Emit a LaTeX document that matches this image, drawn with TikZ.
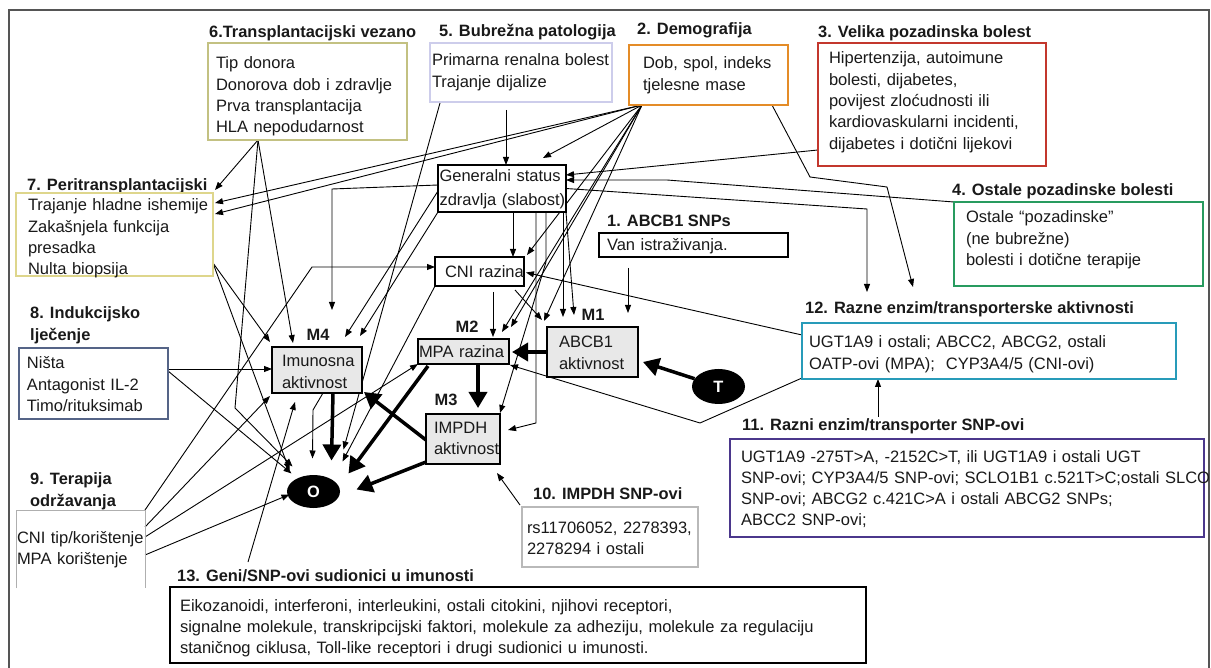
\documentclass[tikz,border=0pt]{standalone}
\usepackage{fontspec}
\setmainfont{Liberation Sans}
\usetikzlibrary{arrows.meta,shapes.geometric,calc}
\definecolor{cSix}{RGB}{195,193,130}
\definecolor{cSeven}{RGB}{222,214,140}
\definecolor{cFive}{RGB}{205,205,235}
\definecolor{cTwo}{RGB}{228,140,40}
\definecolor{cThree}{RGB}{195,55,45}
\definecolor{cFour}{RGB}{40,155,95}
\definecolor{cTwelve}{RGB}{40,155,185}
\definecolor{cEleven}{RGB}{75,55,140}
\definecolor{cEight}{RGB}{85,100,135}
\definecolor{cNine}{RGB}{175,175,175}
\definecolor{cTen}{RGB}{185,185,185}
\definecolor{cFrame}{RGB}{85,85,85}
\definecolor{mfill}{RGB}{232,232,232}
\definecolor{txt}{RGB}{25,25,25}
\newcommand{\lne}[1]{\mbox{#1}}
\newcommand{\fsz}{\fontsize{16.5}{21.3}\selectfont}
\newcommand{\tsz}{\fontsize{16.4}{19}\selectfont\bfseries}
\pgfdeclarelayer{back}
\pgfdeclarelayer{bg}
\pgfsetlayers{back,bg,main}
\begin{document}
\begin{tikzpicture}[x=1pt,y=-1pt,
 box/.style={draw, fill=white, anchor=north west, align=left, inner ysep=0pt, outer sep=0pt, font=\fsz, text=txt, line width=2.5pt},
 mb/.style={box, line width=1.5pt, draw=black, fill=mfill},
 wb/.style={box, line width=1.5pt, draw=black},
 ttl/.style={anchor=base west, inner sep=0pt, font=\tsz, text=txt},
 ml/.style={anchor=base, inner sep=0pt, font=\tsz, text=txt},
 arr/.style={-{Triangle[length=8pt,width=6pt]}, line width=0.9pt},
 thk/.style={-{Triangle[length=16pt,width=18pt]}, line width=3.5pt},
 blob/.style={ellipse, fill=black, inner sep=0pt, text=white, font=\tsz},
]
\useasboundingbox (0,0) rectangle (1211,668);
\begin{pgfonlayer}{back}
\fill[white] (0,0) rectangle (1211,668);
\draw[cFrame, line width=2pt] (9,10) rectangle (1209,690);
\end{pgfonlayer}

% ---------- titles ----------
\node[ttl] (t6) at (209,38) {6.Transplantacijski vezano};
\node[ttl] (t5) at (439,37) {5. Bubrežna patologija};
\node[ttl] (t2) at (637,35) {2. Demografija};
\node[ttl] (t3) at (818,38) {3. Velika pozadinska bolest};
\node[ttl] (t4) at (952,196) {4. Ostale pozadinske bolesti};
\node[ttl] (t7) at (27,191) {7. Peritransplantacijski};
\node[ttl] (t1) at (607,227) {1. ABCB1 SNPs};
\node[ttl] (t12) at (805,314) {12. Razne enzim/transporterske aktivnosti};
\node[ttl] (t8a) at (30,319) {8. Indukcijsko};
\node[ttl] (t8b) at (30,341) {lječenje};
\node[ttl] (t9a) at (30,484) {9. Terapija};
\node[ttl] (t9b) at (30,506) {održavanja};
\node[ttl] (t11) at (742,431) {11. Razni enzim/transporter SNP-ovi};
\node[ttl] (t10) at (533,499) {10. IMPDH SNP-ovi};
\node[ttl] (t13) at (177,581) {13. Geni/SNP-ovi sudionici u imunosti};

% ---------- boxes ----------
\node[box, draw=cSix, inner xsep=8pt, text width=183pt, text height=26pt, text depth=71pt] (b6) at (208,43)
 {\lne{Tip donora}\\\lne{Donorova dob i zdravlje}\\\lne{Prva transplantacija}\\\lne{HLA nepodudarnost}};
\node[box, draw=cFive, inner xsep=2pt, text width=178pt, text height=23pt, text depth=36pt] (b5) at (430,43)
 {\lne{Primarna renalna bolest}\\\lne{Trajanje dijalize}};
\node[box, draw=cTwo, inner xsep=14pt, text width=131pt, text height=24pt, text depth=36pt] (b2) at (629,45)
 {\lne{Dob, spol, indeks}\\\lne{tjelesne mase}};
\node[box, draw=cThree, inner xsep=11pt, text width=206pt, text height=21pt, text depth=102pt] (b3) at (818,43)
 {\lne{Hipertenzija, autoimune}\\\lne{bolesti, dijabetes,}\\\lne{povijest zloćudnosti ili}\\\lne{kardiovaskularni incidenti,}\\\lne{dijabetes i dotični lijekovi}};
\node[box, draw=cFour, inner xsep=12pt, text width=225pt, text height=21pt, text depth=63pt] (b4) at (954,202)
 {\lne{Ostale “pozadinske”}\\\lne{(ne bubrežne)}\\\lne{bolesti i dotične terapije}};
\node[box, draw=cSeven, inner xsep=12pt, text width=173pt, text height=18pt, text depth=65pt] (b7) at (16,193)
 {\lne{Trajanje hladne ishemije}\\\lne{Zakašnjela funkcija}\\\lne{presadka}\\\lne{Nulta biopsija}};
\node[box, draw=cEight, inner xsep=8pt, text width=133pt, text height=21pt, text depth=50pt] (b8) at (19,348)
 {\lne{Ništa}\\\lne{Antagonist IL-2}\\\lne{Timo/rituksimab}};
\node[box, draw=none, fill=none, inner xsep=1pt, text width=127pt, text height=33pt, text depth=45pt] (b9) at (16,510)
 {\lne{CNI tip/korištenje}\\\lne{MPA korištenje}};
\draw[cNine, line width=1pt] (b9.south west) -- (b9.north west) -- (b9.north east) -- (b9.south east);
\node[wb, inner xsep=8pt, text width=173pt, text height=18pt, text depth=6pt] (b1) at (599,233)
 {\lne{Van istraživanja.}};
\node[box, draw=cTwelve, inner xsep=7pt, text width=360pt, text height=25pt, text depth=31pt] (b12) at (802,323)
 {\lne{UGT1A9 i ostali; ABCC2, ABCG2, ostali}\\\lne{OATP-ovi (MPA);\ \ CYP3A4/5 (CNI-ovi)}};
\node[box, draw=cEleven, inner xsep=11pt, text width=452pt, text height=23pt, text depth=75pt] (b11) at (730,439)
 {\lne{UGT1A9 -275T>A, -2152C>T, ili UGT1A9 i ostali UGT}\\\lne{SNP-ovi; CYP3A4/5 SNP-ovi; SCLO1B1 c.521T>C;ostali SLCO}\\\lne{SNP-ovi; ABCG2 c.421C>A i ostali ABCG2 SNPs;}\\\lne{ABCC2 SNP-ovi;}};
\node[box, draw=cTen, line width=2pt, inner xsep=5pt, text width=166pt, text height=26pt, text depth=34pt] (b10) at (522,507)
 {\lne{rs11706052, 2278393,}\\\lne{2278294 i ostali}};
\node[box, draw=black, inner xsep=10pt, text width=676pt, text height=24pt, text depth=52pt] (b13) at (170,587)
 {\lne{Eikozanoidi, interferoni, interleukini, ostali citokini, njihovi receptori,}\\\lne{signalne molekule, transkripcijski faktori, molekule za adheziju, molekule za regulaciju}\\\lne{staničnog ciklusa, Toll-like receptori i drugi sudionici u imunosti.}};

% ---------- central nodes ----------
\node[wb, inner xsep=1.5pt, text width=125pt, text height=17pt, text depth=30pt, font=\fontsize{16.5}{24}\selectfont] (GS) at (438,165)
 {\lne{Generalni status}\\\lne{zdravlja (slabost)}};
\node[wb, inner xsep=10pt, text width=69pt, text height=21pt, text depth=8pt] (CNI) at (435,257) {\lne{CNI razina}};
\node[mb, inner xsep=1pt, text width=89pt, text height=19pt, text depth=6pt] (MPA) at (418,339) {\lne{MPA razina}};
\node[mb, inner xsep=12pt, text width=67pt, text height=21pt, text depth=29pt] (M1) at (547,327) {\lne{ABCB1}\\\lne{aktivnost}};
\node[mb, inner xsep=8pt, text width=58pt, text height=19pt, text depth=31pt] (M3) at (426,414) {\lne{IMPDH}\\\lne{aktivnost}};
\node[mb, inner xsep=10pt, text width=70pt, text height=20pt, text depth=26pt] (M4) at (272,347) {\lne{Imunosna}\\\lne{aktivnost}};
\node[ml] (lM4) at (318,341) {M4};
\node[ml] (lM2) at (467,333) {M2};
\node[ml] (lM1) at (593,321) {M1};
\node[ml] (lM3) at (446,406) {M3};
\node[blob, minimum width=53pt, minimum height=33pt] (O) at (313.5,491.5) {O};
\node[blob, minimum width=53pt, minimum height=35pt] (T) at (718.5,386.5) {T};

% ---------- connectors ----------
\begin{pgfonlayer}{bg}
\coordinate (p6) at ($(b6.south west)+(50,0)$);
\coordinate (p2) at ($(b2.south west)+(13,0)$);
\coordinate (p7) at ($(b7.south east)+(0,-13)$);
% box 6
\draw[arr] (p6) -- ($(b7.north east)+(2,-3)$);
\draw[arr] (p6) -- (235,408) -- ($(O.center)+(-21,-25)$);
\draw[arr] (p6) -- ($(M4.north west)+(21,-4)$);
% box 7
\draw[arr] (p7) -- ($(M4.north west)+(-2,-5)$);
\draw[arr] (p7) -- ($(O.center)+(-24,-21)$);
% demografija
\draw[arr] (p2) -- ($(b7.north east)+(2,10)$);
\draw[arr] (p2) -- ($(b7.north east)+(2,21)$);
\draw[arr] (p2) -- ($(GS.north west)+(105,-7)$);
\draw[arr] (p2) -- ($(CNI.north east)+(3,-2)$);
\draw[arr] (p2) -- ($(MPA.north west)+(84,-7)$);
\draw[arr] (p2) -- ($(MPA.north west)+(93,-12)$);
\draw[arr] (p2) -- ($(M1.north west)+(-3,-6)$);
\draw[arr] ($(b2.south west)+(143,0)$) -- (810,177) -- (887,187) -- ($(b12.north west)+(111,-36)$);
% box 8
\draw[arr] ($(b8.north east)+(0,21)$) -- ($(M4.north west)+(0,22)$);
\draw[arr] ($(b8.north east)+(0,23)$) -- ($(O.center)+(-22,-18)$);
% box 9
\draw[arr] (b9.north east) -- (312,267) -- ($(CNI.north west)+(0,10)$);
\draw[arr] ($(b9.north east)+(0,17)$) -- ($(M4.south west)+(-2,3)$);
\draw[arr] ($(b9.north east)+(0,27)$) -- (MPA.south west);
\draw[arr] ($(b9.north east)+(0,45)$) -- ($(O.center)+(-24,3)$);
% box 13
\draw[arr] ($(b13.north west)+(78,-25)$) -- ($(M4.south west)+(23,9)$);
% box 5
\draw[arr] ($(b5.south west)+(76,8)$) -- ($(GS.north west)+(68,0)$);
\draw[arr] ($(b5.south west)+(10,1)$) -- ($(O.center)+(30,-42)$);
% general status
\draw[arr] ($(GS.north west)+(0,20)$) -- (332,189) -- ($(M4.north west)+(60,-37)$);
\draw[arr] ($(GS.north west)+(0,26)$) -- ($(M4.north west)+(73,-10)$);
\draw[arr] (GS.south west) -- ($(M4.north east)+(-2,-11)$);
\draw[arr] ($(GS.south west)+(75,0)$) -- ($(CNI.north west)+(78,0)$);
\draw[arr] ($(GS.south west)+(98,0)$) -- (536,423) -- ($(M3.north east)+(8,16)$);
\draw[arr] ($(GS.south west)+(108,0)$) -- (546,262) -- ($(M3.north east)+(0,-1)$);
\draw[arr] ($(GS.south west)+(125,0)$) -- ($(M1.north west)+(16,-10)$);
\draw[arr] (GS.south east) -- ($(M1.north west)+(27,-12)$);
\draw[arr] (GS.east) -- (867,209) -- ($(b12.north west)+(65,-31)$);
% CNI
\draw[arr] (CNI.south west) -- ($(O.center)+(29,-30)$);
\draw[arr] ($(CNI.south west)+(58,6)$) -- ($(MPA.north west)+(75,-2)$);
\draw[arr] ($(CNI.south west)+(80,4)$) -- ($(M1.north west)+(-5,-7)$);
% boxes 3, 4, 12, 11, 1, 10
\draw[arr] ($(b3.south west)+(0,-16)$) -- ($(GS.north east)+(0,10)$);
\draw[arr] (b4.north west) -- (667,180) -- ($(GS.north east)+(0,15)$);
\draw[arr] ($(b12.north west)+(0,12)$) -- ($(CNI.east)+(2,1)$);
\draw[arr] ($(b12.south west)+(0,-1)$) -- (700,423) -- ($(MPA.south east)+(1,1)$);
\draw[arr] ($(b11.north west)+(148,-22)$) -- ($(b12.south west)+(76,0)$);
\draw[arr] ($(b1.south west)+(29,11)$) -- ($(M1.north west)+(81,-14)$);
\draw[arr] ($(b10.north west)+(-2,-2)$) -- ($(M3.south east)+(-3,9)$);
\draw[arr] ($(M4.south west)+(51,0)$) -- (313,410) -- ($(O.center)+(-1,-33)$);
% thick
\draw[thk] ($(MPA.south west)+(60,0)$) -- ($(M3.north west)+(52,-6)$);
\draw[thk] ($(M1.north west)+(0,25)$) -- ($(MPA.north east)+(3,13)$);
\draw[thk] (T) -- ($(M1.south east)+(5,-15)$);
\draw[thk] ($(M4.south west)+(61,0)$) -- ($(O.center)+(18,-31)$);
\draw[thk] ($(MPA.south west)+(10,2)$) -- ($(O.center)+(35,-18)$);
\draw[thk] ($(M3.south west)+(0,-2)$) -- ($(O.center)+(43,-2)$);
\draw[thk] ($(M3.west)+(0,1)$) -- ($(M4.south east)+(2,-1)$);
\end{pgfonlayer}
\end{tikzpicture}
\end{document}
